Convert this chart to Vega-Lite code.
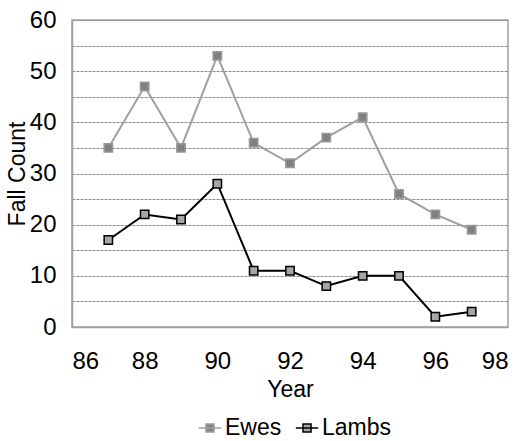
{
  "$schema": "https://vega.github.io/schema/vega-lite/v6.json",
  "width": 436,
  "height": 307,
  "autosize": {"type": "none"},
  "padding": {"left": 72, "top": 20, "right": 10, "bottom": 114},
  "background": "white",
  "config": {
    "font": "Liberation Sans",
    "view": {"stroke": "#a0a0a0", "strokeWidth": 1.5},
    "axis": {
      "labelFont": "Liberation Sans",
      "titleFont": "Liberation Sans",
      "labelFontSize": 24,
      "titleFontSize": 23,
      "labelColor": "#000",
      "titleColor": "#000",
      "titleFontWeight": "normal",
      "domainColor": "#a0a0a0",
      "domainWidth": 1.5,
      "ticks": false
    },
    "legend": {
      "labelFont": "Liberation Sans",
      "labelFontSize": 23,
      "labelColor": "#000"
    }
  },
  "data": {
    "values": [
      {"year": 87, "series": "Ewes", "count": 35},
      {"year": 88, "series": "Ewes", "count": 47},
      {"year": 89, "series": "Ewes", "count": 35},
      {"year": 90, "series": "Ewes", "count": 53},
      {"year": 91, "series": "Ewes", "count": 36},
      {"year": 92, "series": "Ewes", "count": 32},
      {"year": 93, "series": "Ewes", "count": 37},
      {"year": 94, "series": "Ewes", "count": 41},
      {"year": 95, "series": "Ewes", "count": 26},
      {"year": 96, "series": "Ewes", "count": 22},
      {"year": 97, "series": "Ewes", "count": 19},
      {"year": 87, "series": "Lambs", "count": 17},
      {"year": 88, "series": "Lambs", "count": 22},
      {"year": 89, "series": "Lambs", "count": 21},
      {"year": 90, "series": "Lambs", "count": 28},
      {"year": 91, "series": "Lambs", "count": 11},
      {"year": 92, "series": "Lambs", "count": 11},
      {"year": 93, "series": "Lambs", "count": 8},
      {"year": 94, "series": "Lambs", "count": 10},
      {"year": 95, "series": "Lambs", "count": 10},
      {"year": 96, "series": "Lambs", "count": 2},
      {"year": 97, "series": "Lambs", "count": 3}
    ]
  },
  "encoding": {
    "x": {
      "field": "year",
      "type": "quantitative",
      "title": "Year",
      "scale": {"domain": [86, 98], "nice": false, "zero": false},
      "axis": {
        "values": [86, 88, 90, 92, 94, 96, 98],
        "format": "d",
        "grid": false,
        "labelPadding": 22,
        "titlePadding": 5
      }
    },
    "y": {
      "field": "count",
      "type": "quantitative",
      "title": "Fall Count",
      "scale": {"domain": [0, 60], "nice": false},
      "axis": {
        "values": [0, 5, 10, 15, 20, 25, 30, 35, 40, 45, 50, 55, 60],
        "labelExpr": "datum.value % 10 === 0 ? datum.label : ''",
        "grid": true,
        "gridColor": "#8c8c8c",
        "gridDash": [3, 1],
        "gridWidth": 1,
        "labelPadding": 16,
        "titlePadding": 0
      }
    }
  },
  "layer": [
    {
      "mark": {"type": "line", "strokeWidth": 2},
      "encoding": {
        "color": {
          "field": "series",
          "type": "nominal",
          "title": null,
          "scale": {"domain": ["Ewes", "Lambs"], "range": ["#a0a0a0", "#000000"]},
          "legend": {
            "orient": "none",
            "direction": "horizontal",
            "legendX": 126,
            "legendY": 396,
            "symbolType": "M-1,0H1M-0.36,-0.36H0.36V0.36H-0.36Z",
            "symbolSize": 500,
            "symbolStrokeWidth": 1.5,
            "labelOffset": 3,
            "columnPadding": 10,
            "encode": {
              "symbols": {
                "update": {
                  "fill": {"signal": "datum.value === 'Ewes' ? '#808080' : '#a6a6a6'"},
                  "fillOpacity": {"value": 1}
                }
              }
            }
          }
        }
      }
    },
    {
      "mark": {"type": "point", "shape": "square", "filled": true, "size": 70, "opacity": 1, "strokeWidth": 1.5},
      "encoding": {
        "fill": {
          "field": "series",
          "type": "nominal",
          "scale": {"domain": ["Ewes", "Lambs"], "range": ["#808080", "#a6a6a6"]},
          "legend": null
        },
        "stroke": {
          "field": "series",
          "type": "nominal",
          "scale": {"domain": ["Ewes", "Lambs"], "range": ["#999999", "#000000"]},
          "legend": null
        }
      }
    }
  ]
}
